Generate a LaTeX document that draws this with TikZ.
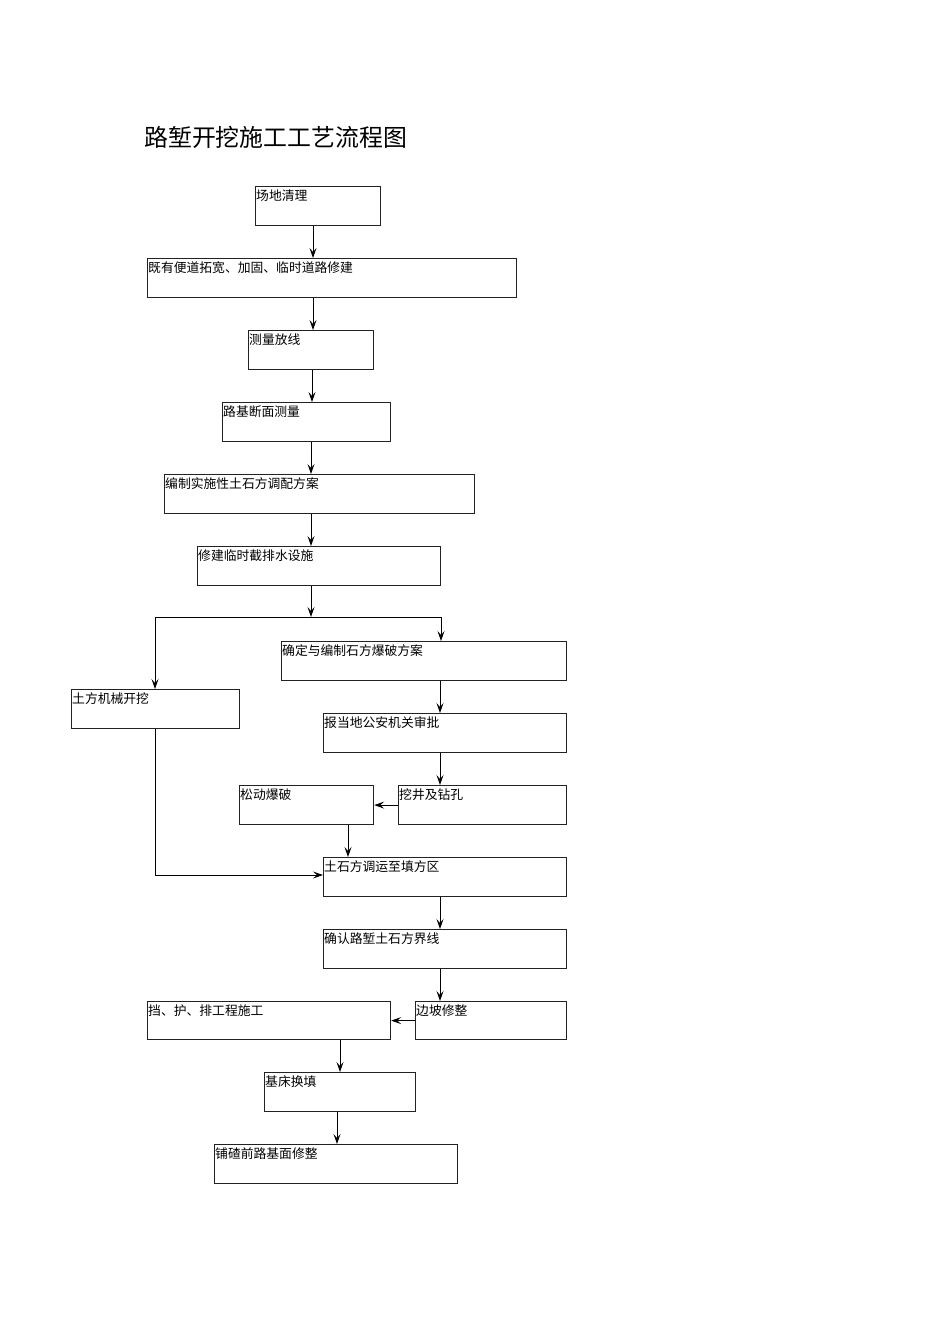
\documentclass[tikz,border=0pt]{standalone}
\usepackage{fontspec}
\usetikzlibrary{arrows.meta}
\newfontfamily\cjk{Noto Sans CJK SC}
\definecolor{boxline}{HTML}{222222}

\tikzset{
  flowbox/.style={rectangle, draw=boxline, line width=1.2pt, inner sep=0pt,
                  anchor=north west, minimum height=39pt},
  boxtext/.style={anchor=north west, inner xsep=1pt, inner ysep=3.5pt,
                  font=\cjk\fontsize{12.8}{15}\selectfont},
  flow/.style={draw=black, line width=1pt,
               -{Stealth[length=10pt,width=7pt,inset=4pt]}}
}

\begin{document}
\begin{tikzpicture}[x=1pt, y=-1pt]
  \useasboundingbox (0,0) rectangle (950,1344);

  % title
  \node[anchor=west, inner sep=0pt, font=\cjk\fontsize{23.9}{28}\selectfont]
        (title) at (144,137) {路堑开挖施工工艺流程图};

  % main column
  \node[flowbox, minimum width=125pt, label={[boxtext]north west:场地清理}] (siteclear) at (255,186) {};
  \node[flowbox, minimum width=369pt, label={[boxtext]north west:既有便道拓宽、加固、临时道路修建}] (widenroad) at (147,258) {};
  \node[flowbox, minimum width=125pt, label={[boxtext]north west:测量放线}] (survey) at (248,330) {};
  \node[flowbox, minimum width=168pt, label={[boxtext]north west:路基断面测量}] (section) at (222,402) {};
  \node[flowbox, minimum width=310pt, label={[boxtext]north west:编制实施性土石方调配方案}] (plan) at (164,474) {};
  \node[flowbox, minimum width=243pt, label={[boxtext]north west:修建临时截排水设施}] (drainage) at (197,546) {};

  % earth branch / rock branch
  \node[flowbox, minimum width=285pt, label={[boxtext]north west:确定与编制石方爆破方案}] (blastplan) at (281,641) {};
  \node[flowbox, minimum width=168pt, label={[boxtext]north west:土方机械开挖}] (earthdig) at (71,689) {};
  \node[flowbox, minimum width=243pt, label={[boxtext]north west:报当地公安机关审批}] (approval) at (323,713) {};
  \node[flowbox, minimum width=134pt, label={[boxtext]north west:松动爆破}] (blast) at (239,785) {};
  \node[flowbox, minimum width=168pt, label={[boxtext]north west:挖井及钻孔}] (drill) at (398,785) {};

  % after excavation
  \node[flowbox, minimum width=243pt, label={[boxtext]north west:土石方调运至填方区}] (haul) at (323,857) {};
  \node[flowbox, minimum width=243pt, label={[boxtext]north west:确认路堑土石方界线}] (boundary) at (323,929) {};
  \node[flowbox, minimum width=243pt, minimum height=38pt, label={[boxtext]north west:挡、护、排工程施工}] (retain) at (147,1001) {};
  \node[flowbox, minimum width=151pt, minimum height=38pt, label={[boxtext]north west:边坡修整}] (slope) at (415,1001) {};
  \node[flowbox, minimum width=151pt, label={[boxtext]north west:基床换填}] (refill) at (264,1072) {};
  \node[flowbox, minimum width=243pt, label={[boxtext]north west:铺碴前路基面修整}] (trim) at (214,1144) {};

  % split after drainage
  \coordinate (split)  at (311,617);
  \coordinate (splitL) at (155,617);
  \coordinate (splitR) at (441,617);
  \coordinate (haulin) at (323,875);

  % connectors
  \draw[flow] (siteclear.south -| 313,0) -- (widenroad.north -| 313,0);
  \draw[flow] (widenroad.south -| 313,0) -- (survey.north -| 313,0);
  \draw[flow] (survey.south -| 312,0) -- (section.north -| 312,0);
  \draw[flow] (section.south -| 311,0) -- (plan.north -| 311,0);
  \draw[flow] (plan.south -| 311,0) -- (drainage.north -| 311,0);
  \draw[flow] (drainage.south -| split) -- (split);
  \draw[line width=1pt] (splitL) -- (splitR);
  \draw[flow] (splitL) -- (splitL |- earthdig.north);
  \draw[flow] (splitR) -- (splitR |- blastplan.north);
  \draw[flow] (blastplan.south -| 440,0) -- (approval.north -| 440,0);
  \draw[flow] (approval.south -| 440,0) -- (drill.north -| 440,0);
  \draw[flow] (drill.west) -- (blast.east);
  \draw[flow] (blast.south -| 348,0) -- (haul.north -| 348,0);
  \draw[flow] (earthdig.south -| splitL) |- (haulin);
  \draw[flow] (haul.south -| 440,0) -- (boundary.north -| 440,0);
  \draw[flow] (boundary.south -| 440,0) -- (slope.north -| 440,0);
  \draw[flow] (slope.west) -- (retain.east);
  \draw[flow] (retain.south -| 340,0) -- (refill.north -| 340,0);
  \draw[flow] (refill.south -| 337,0) -- (trim.north -| 337,0);
\end{tikzpicture}
\end{document}
